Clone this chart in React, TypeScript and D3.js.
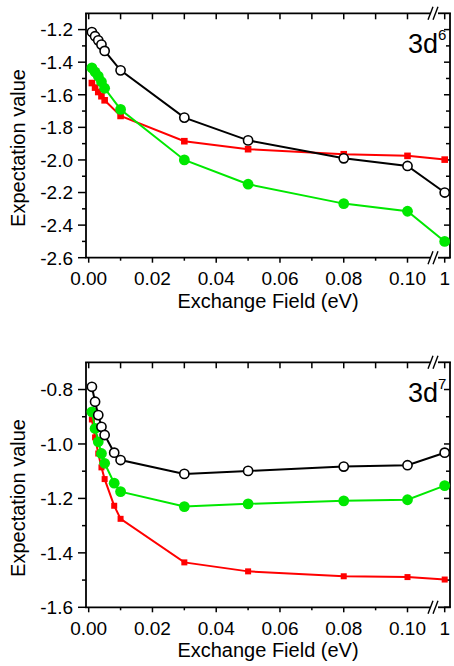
import React from 'react';
import * as d3 from 'd3';

// x values (eV); the last point sits beyond the axis break at 1
const fieldD6 = [0.001, 0.002, 0.003, 0.004, 0.005, 0.01, 0.03, 0.05, 0.08, 0.1, 1];
const fieldD7 = [0.001, 0.002, 0.003, 0.004, 0.005, 0.008, 0.01, 0.03, 0.05, 0.08, 0.1, 1];

// 3d6 series
const d6Black = [-1.215, -1.241, -1.266, -1.292, -1.331, -1.45, -1.74, -1.88, -1.99, -2.037, -2.2];
const d6Red = [-1.528, -1.556, -1.583, -1.609, -1.634, -1.73, -1.885, -1.934, -1.965, -1.975, -1.998];
const d6Green = [-1.435, -1.46, -1.486, -1.52, -1.56, -1.69, -2.0, -2.149, -2.268, -2.315, -2.5];

// 3d7 series
const d7Black = [-0.79, -0.845, -0.894, -0.937, -0.967, -1.032, -1.059, -1.11, -1.099, -1.083, -1.078, -1.032];
const d7Red = [-0.91, -0.976, -1.035, -1.086, -1.129, -1.227, -1.275, -1.435, -1.468, -1.486, -1.489, -1.498];
const d7Green = [-0.882, -0.943, -0.992, -1.035, -1.071, -1.144, -1.175, -1.23, -1.22, -1.209, -1.205, -1.153];

const xMajor = [0, 0.02, 0.04, 0.06, 0.08, 0.1, 1];
const xMajorLabels = ['0.00', '0.02', '0.04', '0.06', '0.08', '0.10', '1'];
const xMinor = [0.01, 0.03, 0.05, 0.07, 0.09];

const d6YMajor = [-2.6, -2.4, -2.2, -2.0, -1.8, -1.6, -1.4, -1.2];
const d6YMinor = [-2.5, -2.3, -2.1, -1.9, -1.7, -1.5, -1.3];
const d7YMajor = [-1.6, -1.4, -1.2, -1.0, -0.8];
const d7YMinor = [-1.5, -1.3, -1.1, -0.9];

const FONT = "'Liberation Sans', Arial, Helvetica, sans-serif";
const GREEN = '#00e800';
const RED = '#ff0000';

const LEFT = 86;
const RIGHT = 450;
const BREAK_X = 434;

const x = d3.scaleLinear().domain([0, 0.1, 1]).range([88.7, 407.5, 444.7]);

type PanelProps = {
  top: number;
  bottom: number;
  yDomain: [number, number];
  yMajor: number[];
  yMinor: number[];
  field: number[];
  black: number[];
  red: number[];
  green: number[];
  sup: string;
  labelY: number;
  square: number;
};

function BrokenHLine({ y }: { y: number }) {
  return (
    <g stroke="#000" strokeWidth={1.8} fill="none">
      <line x1={LEFT - 0.9} x2={BREAK_X - 3} y1={y} y2={y} />
      <line x1={BREAK_X + 4} x2={RIGHT + 0.9} y1={y} y2={y} />
      <line x1={BREAK_X - 6} y1={y + 6.5} x2={BREAK_X - 1} y2={y - 6.5} strokeWidth={1.4} />
      <line x1={BREAK_X - 1} y1={y + 6.5} x2={BREAK_X + 4} y2={y - 6.5} strokeWidth={1.4} />
    </g>
  );
}

function Panel(p: PanelProps) {
  const y = d3.scaleLinear().domain(p.yDomain).range([p.bottom, p.top]);
  const line = d3
    .line<[number, number]>()
    .x(d => x(d[0]))
    .y(d => y(d[1]));
  const pts = (vals: number[]) => p.field.map((f, i) => [f, vals[i]] as [number, number]);

  return (
    <g>
      {/* frame */}
      <line x1={LEFT} x2={LEFT} y1={p.top} y2={p.bottom} stroke="#000" strokeWidth={1.8} />
      <line x1={RIGHT} x2={RIGHT} y1={p.top} y2={p.bottom} stroke="#000" strokeWidth={1.8} />
      <BrokenHLine y={p.top} />
      <BrokenHLine y={p.bottom} />

      {/* x ticks: bottom outward, top inward */}
      <g stroke="#000" strokeWidth={1.5}>
        {xMajor.map(t => (
          <g key={'xM' + t}>
            <line x1={x(t)} x2={x(t)} y1={p.bottom} y2={p.bottom + 5} />
            <line x1={x(t)} x2={x(t)} y1={p.top} y2={p.top + 6} />
          </g>
        ))}
        {xMinor.map(t => (
          <g key={'xm' + t}>
            <line x1={x(t)} x2={x(t)} y1={p.bottom} y2={p.bottom + 3} />
            <line x1={x(t)} x2={x(t)} y1={p.top} y2={p.top + 6} />
          </g>
        ))}
        {/* y ticks: left outward, right inward */}
        {p.yMajor.map(t => (
          <g key={'yM' + t}>
            <line x1={LEFT - 8} x2={LEFT} y1={y(t)} y2={y(t)} />
            <line x1={RIGHT - 6} x2={RIGHT} y1={y(t)} y2={y(t)} />
          </g>
        ))}
        {p.yMinor.map(t => (
          <g key={'ym' + t}>
            <line x1={LEFT - 4} x2={LEFT} y1={y(t)} y2={y(t)} />
            <line x1={RIGHT - 4} x2={RIGHT} y1={y(t)} y2={y(t)} />
          </g>
        ))}
      </g>

      {/* tick labels */}
      <g fontFamily={FONT} fontSize={19} fill="#000">
        {xMajor.map((t, i) => (
          <text key={'xl' + t} x={x(t)} y={p.bottom + 27.5} textAnchor="middle">
            {xMajorLabels[i]}
          </text>
        ))}
        {p.yMajor.map(t => (
          <text key={'yl' + t} x={73} y={y(t) + 6.8} textAnchor="end">
            {d3.format('.1f')(t).replace('\u2212', '-')}
          </text>
        ))}
      </g>

      {/* axis titles */}
      <text
        x={(LEFT + RIGHT) / 2}
        y={p.bottom + 50}
        textAnchor="middle"
        fontFamily={FONT}
        fontSize={20}
      >
        Exchange Field (eV)
      </text>
      <text
        transform={`translate(25, ${p.labelY}) rotate(-90)`}
        textAnchor="middle"
        fontFamily={FONT}
        fontSize={20}
      >
        Expectation value
      </text>

      {/* panel tag */}
      <text x={408} y={p.top + 40} fontFamily={FONT} fontSize={27}>
        3d
        <tspan fontSize={15} dy={-13}>
          {p.sup}
        </tspan>
      </text>

      {/* series */}
      <path d={line(pts(p.red)) ?? ''} fill="none" stroke={RED} strokeWidth={2} />
      {pts(p.red).map((d, i) => (
        <rect
          key={'r' + i}
          x={x(d[0]) - p.square / 2}
          y={y(d[1]) - p.square / 2}
          width={p.square}
          height={p.square}
          fill={RED}
        />
      ))}
      <path d={line(pts(p.green)) ?? ''} fill="none" stroke={GREEN} strokeWidth={2} />
      {pts(p.green).map((d, i) => (
        <circle key={'g' + i} cx={x(d[0])} cy={y(d[1])} r={5.4} fill={GREEN} />
      ))}
      <path d={line(pts(p.black)) ?? ''} fill="none" stroke="#000" strokeWidth={2} />
      {pts(p.black).map((d, i) => (
        <circle
          key={'b' + i}
          cx={x(d[0])}
          cy={y(d[1])}
          r={4.6}
          fill="#fff"
          stroke="#000"
          strokeWidth={1.6}
        />
      ))}
    </g>
  );
}

export default function App() {
  return (
    <svg
      width={454}
      height={666}
      style={{ position: 'absolute', left: 0, top: 0, background: '#fff' }}
    >
      <Panel
        top={13.3}
        bottom={257.7}
        yDomain={[-2.6, -1.1]}
        yMajor={d6YMajor}
        yMinor={d6YMinor}
        field={fieldD6}
        black={d6Black}
        red={d6Red}
        green={d6Green}
        sup="6"
        labelY={148}
        square={6.6}
      />
      <Panel
        top={362.3}
        bottom={607.3}
        yDomain={[-1.6, -0.7]}
        yMajor={d7YMajor}
        yMinor={d7YMinor}
        field={fieldD7}
        black={d7Black}
        red={d7Red}
        green={d7Green}
        sup="7"
        labelY={498}
        square={6}
      />
    </svg>
  );
}
